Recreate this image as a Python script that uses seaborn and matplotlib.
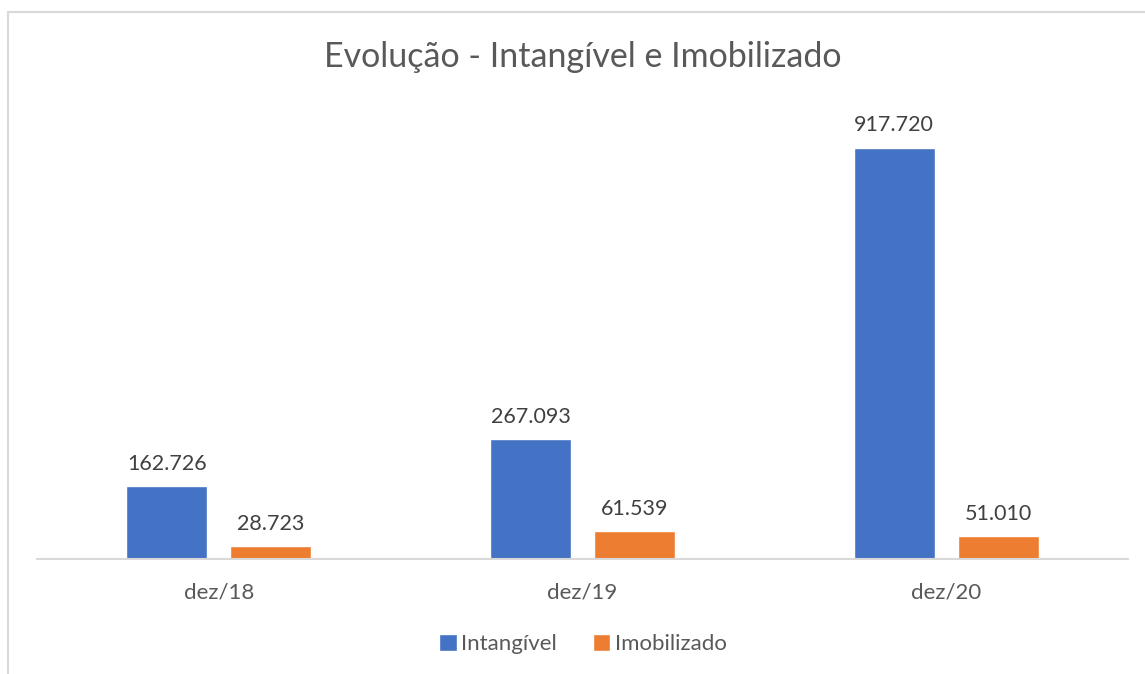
import pandas as pd
import seaborn as sns
import matplotlib.pyplot as plt
from matplotlib.patches import Rectangle

periodos = ['dez/18', 'dez/19', 'dez/20']
intangivel = [162726, 267093, 917720]
imobilizado = [28723, 61539, 51010]
series = ['Intangível', 'Imobilizado']
cores = ['#4472C4', '#ED7D31']

df = pd.DataFrame({
    'periodo': periodos * 2,
    'valor': intangivel + imobilizado,
    'serie': [series[0]] * 3 + [series[1]] * 3,
})

sns.set_style('white')
plt.rcParams['font.family'] = ['Lato', 'DejaVu Sans']

W, H = 1145, 674
fig = plt.figure(figsize=(W / 100, H / 100), dpi=100)
ax = fig.add_axes([37 / W, (H - 559) / H, (1128 - 37) / W, 448 / H])

sns.barplot(data=df, x='periodo', y='valor', hue='serie', palette=cores, saturation=1,
            width=0.572, gap=0.221, ax=ax, legend=True)

ax.set_ylim(0, 1000000)
ax.set_xlim(-0.5, 2.5)
for c in ax.containers:
    ax.bar_label(c, labels=[f'{v:,.0f}'.replace(',', '.') for v in c.datavalues],
                 padding=9, fontsize=15.5, color='#404040')

for s in ['top', 'right', 'left']:
    ax.spines[s].set_visible(False)
ax.spines['bottom'].set_color('#D9D9D9')
ax.spines['bottom'].set_linewidth(1.5)
ax.set_yticks([])
ax.set_xlabel('')
ax.set_ylabel('')
ax.tick_params(axis='x', length=0, pad=17, labelsize=16, labelcolor='#595959')

ax.legend(loc='center', bbox_to_anchor=(583 / W, (H - 644) / H), bbox_transform=fig.transFigure,
          ncol=2, frameon=False, fontsize=16, labelcolor='#595959',
          handlelength=0.8, handleheight=0.8, handletextpad=0.2, columnspacing=1.6)

fig.suptitle('Evolução - Intangível e Imobilizado', x=583 / W, y=(H - 57) / H, va='center',
             fontsize=24.5, color='#595959')

fig.patches.append(Rectangle((8 / W, -0.1), 1.5, (H - 12) / H + 0.1, transform=fig.transFigure,
                             fill=False, edgecolor='#D9D9D9', linewidth=1.5))

fig.savefig('out.png', dpi=100)
